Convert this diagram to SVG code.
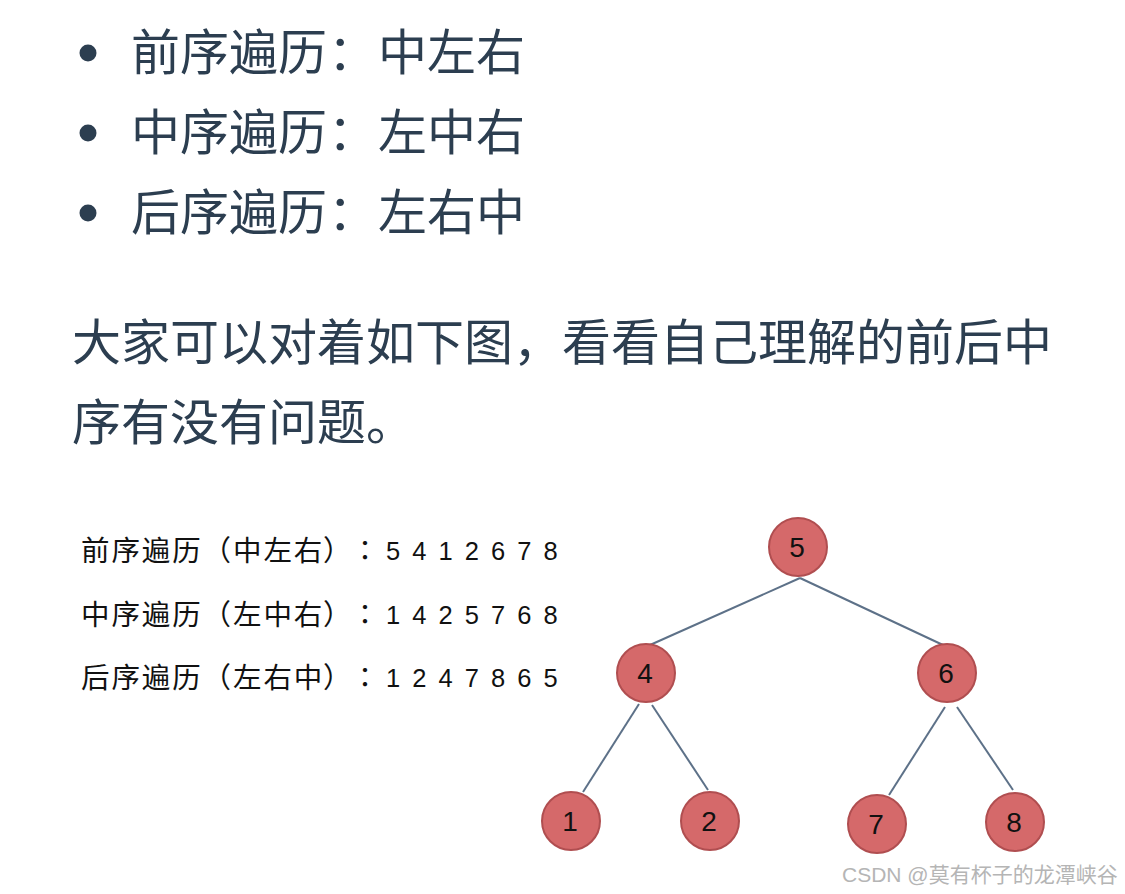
<svg xmlns="http://www.w3.org/2000/svg" width="1125" height="894" viewBox="0 0 1125 894">
<style>
.h{font-family:"Noto Sans CJK SC","Noto Sans",sans-serif;font-size:49px;fill:#2c3e50}
.t{font-family:"Noto Sans CJK SC","Liberation Sans",sans-serif;font-size:28.5px;fill:#111;letter-spacing:1.9px}
.k{font-family:"Noto Sans CJK TC","Noto Sans CJK JP",sans-serif;font-size:28px;fill:#111;text-anchor:middle}
.d{font-family:"Liberation Sans",Arial,sans-serif;font-size:25.5px;fill:#111;letter-spacing:2.5px}
.n circle{fill:#d5696a;stroke:#b04e50;stroke-width:2}
.n text{font-family:"Liberation Sans",Arial,sans-serif;font-size:28px;fill:#111;text-anchor:middle}
.e line{stroke:#5d7188;stroke-width:2}
.w{font-family:"Liberation Sans","Noto Sans CJK SC",sans-serif;font-size:21px;fill:#b5b5b5}
</style>
<rect width="1125" height="894" fill="#fff"/>
<g id="bullets" fill="#2c3e50">
<circle cx="88" cy="53" r="8.5"/>
<circle cx="88" cy="133" r="8.5"/>
<circle cx="88" cy="213" r="8.5"/>
</g>
<g id="list">
<text class="h" x="131" y="70">前序遍历</text><text class="h" x="328" y="70">：</text><text class="h" x="378" y="70">中左右</text>
<text class="h" x="131" y="150">中序遍历</text><text class="h" x="328" y="150">：</text><text class="h" x="378" y="150">左中右</text>
<text class="h" x="131" y="230">后序遍历</text><text class="h" x="328" y="230">：</text><text class="h" x="378" y="230">左右中</text>
</g>
<text class="h" x="72" y="360">大家可以对着如下图，看看自己理解的前后中</text>
<text class="h" x="72" y="440">序有没有问题。</text>
<g id="row1">
<text class="t" x="81" y="561">前序遍历</text><text class="t" x="202.5" y="561">（</text><text class="t" x="233" y="561">中左右</text><text class="t" x="323" y="561">）</text>
<text class="k" x="365" y="561">：</text>
<text class="d" x="386" y="560">5 4 1 2 6 7 8</text>
</g>
<g id="row2">
<text class="t" x="81" y="625">中序遍历</text><text class="t" x="202.5" y="625">（</text><text class="t" x="233" y="625">左中右</text><text class="t" x="323" y="625">）</text>
<text class="k" x="365" y="625">：</text>
<text class="d" x="386" y="624">1 4 2 5 7 6 8</text>
</g>
<g id="row3">
<text class="t" x="81" y="688">后序遍历</text><text class="t" x="202.5" y="688">（</text><text class="t" x="233" y="688">左右中</text><text class="t" x="323" y="688">）</text>
<text class="k" x="365" y="688">：</text>
<text class="d" x="386" y="687">1 2 4 7 8 6 5</text>
</g>
<g id="edges" class="e">
<line x1="800" y1="578" x2="650" y2="645"/>
<line x1="800" y1="578" x2="943" y2="645"/>
<line x1="639" y1="704" x2="583" y2="792"/>
<line x1="652" y1="705" x2="708" y2="790"/>
<line x1="945" y1="707" x2="889" y2="795"/>
<line x1="957" y1="707" x2="1013" y2="790"/>
</g>
<g id="n5" class="n"><circle cx="798" cy="547" r="29"/><text x="797" y="557">5</text></g>
<g id="n4" class="n"><circle cx="646" cy="673" r="29"/><text x="645" y="683">4</text></g>
<g id="n6" class="n"><circle cx="947" cy="673" r="29"/><text x="946" y="683">6</text></g>
<g id="n1" class="n"><circle cx="571" cy="821" r="29"/><text x="570" y="831">1</text></g>
<g id="n2" class="n"><circle cx="710" cy="821" r="29"/><text x="709" y="831">2</text></g>
<g id="n7" class="n"><circle cx="877" cy="824" r="29"/><text x="876" y="834">7</text></g>
<g id="n8" class="n"><circle cx="1015" cy="822" r="29"/><text x="1014" y="832">8</text></g>
<text class="w" x="842" y="882">CSDN @莫有杯子的龙潭峡谷</text>
</svg>
